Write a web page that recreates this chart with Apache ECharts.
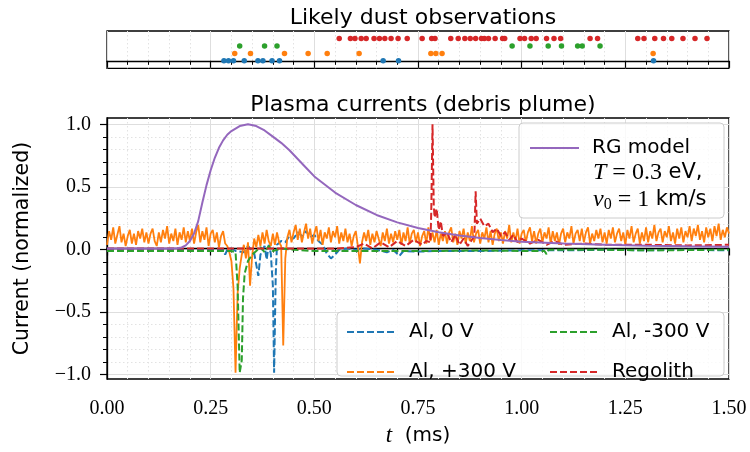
<!DOCTYPE html>
<html>
<head>
<meta charset="utf-8">
<script src="https://cdn.jsdelivr.net/npm/echarts@6/dist/echarts.min.js"></script>
<style>
html, body { margin: 0; padding: 0; background: #fff; }
#main { width: 750px; height: 452px; }
</style>
</head>
<body>
<div id="main"></div>
<script>
// dust events (ms), one row per probe
var blueDust = [0.282, 0.293, 0.305, 0.331, 0.364, 0.376, 0.398, 0.416, 0.666, 0.703, 1.318];
var orangeDust = [0.308, 0.346, 0.428, 0.485, 0.531, 0.608, 0.781, 0.793, 0.808, 1.317];
var greenDust = [0.320, 0.380, 0.410, 0.977, 1.020, 1.064, 1.096, 1.135, 1.146, 1.189];
var redDust = [0.560, 0.587, 0.598, 0.613, 0.625, 0.644, 0.657, 0.670, 0.685, 0.702, 0.724, 0.760,
    0.783, 0.791, 0.829, 0.847, 0.863, 0.876, 0.889, 0.903, 0.910, 0.920, 0.936, 0.954, 0.959,
    0.996, 1.007, 1.023, 1.035, 1.060, 1.078, 1.094, 1.165, 1.183, 1.280, 1.295, 1.321, 1.342,
    1.362, 1.389, 1.418, 1.447];

// Al +300 V trace, sampled every 5 us
var orangeStep = 0.005;
var orangeV = [
    0.03, 0.14, 0.07, 0.17, 0.04, 0.11, 0.18, 0.05, 0.12, 0.02, 0.10, 0.15, 0.04, 0.12, 0.03, 0.14, 0.08, 0.16, 0.05, 0.13,
    0.04, 0.12, 0.16, 0.06, 0.02, 0.13, 0.05, 0.15, 0.08, 0.18, 0.04, 0.12, 0.06, 0.16, 0.03, 0.13, 0.07, 0.17, 0.05, 0.14,
    0.06, 0.16, 0.04, 0.13, 0.19, 0.05, 0.14, 0.07, 0.17, 0.02, 0.12, 0.15, 0.05, 0.13, 0.01, 0.10, 0.14, 0.04, 0.02, -0.03,
    -0.10, -0.32, -1.00, -0.36, -0.16, -0.05, 0.03, -0.08, 0.05, -0.30, -0.06, 0.08, 0.01, 0.11, 0.02, 0.13, 0.04, 0.15, 0.06, 0.02,
    0.12, 0.03, 0.13, 0.05, 0.02, -0.78, -0.08, 0.09, 0.15, 0.05, 0.13, 0.19, 0.07, 0.16, 0.05, 0.13, 0.20, 0.08, 0.16, 0.04,
    0.12, 0.18, 0.06, 0.15, 0.03, 0.13, 0.08, 0.17, 0.05, 0.14, 0.09, 0.18, 0.04, 0.13, 0.06, 0.16, 0.05, 0.12, 0.02, 0.10,
    0.14, 0.02, -0.12, 0.05, 0.13, 0.06, 0.15, 0.03, 0.12, 0.05, 0.14, 0.08, 0.02, 0.13, 0.06, 0.16, 0.04, 0.12, 0.05, 0.14,
    0.07, 0.15, 0.03, 0.13, 0.06, 0.17, 0.04, 0.12, 0.15, 0.05, 0.13, 0.02, 0.10, 0.14, 0.04, 0.17, 0.06, 0.13, 0.05, 0.15,
    0.03, 0.12, 0.06, 0.14, 0.04, 0.13, 0.17, 0.05, 0.12, 0.03, 0.14, 0.08, 0.16, 0.04, 0.13, 0.06, 0.18, 0.05, 0.12, 0.15,
    0.04, 0.13, 0.08, 0.17, 0.05, 0.14, 0.03, 0.12, 0.16, 0.06, 0.13, 0.04, 0.14, 0.08, 0.19, 0.05, 0.13, 0.06, 0.16, 0.04,
    0.12, 0.15, 0.05, 0.13, 0.17, 0.06, 0.14, 0.04, 0.12, 0.16, 0.05, 0.13, 0.08, 0.17, 0.04, 0.14, 0.06, 0.13, 0.03, 0.12,
    0.16, 0.05, 0.13, 0.08, 0.18, 0.04, 0.12, 0.15, 0.06, 0.16, 0.05, 0.13, 0.17, 0.04, 0.12, 0.06, 0.15, 0.08, 0.16, 0.05,
    0.13, 0.04, 0.15, 0.08, 0.17, 0.05, 0.12, 0.16, 0.06, 0.13, 0.03, 0.15, 0.08, 0.18, 0.05, 0.12, 0.16, 0.04, 0.13, 0.06,
    0.17, 0.05, 0.14, 0.08, 0.19, 0.06, 0.13, 0.16, 0.05, 0.14, 0.09, 0.18, 0.06, 0.13, 0.04, 0.16, 0.08, 0.17, 0.05, 0.14,
    0.09, 0.18, 0.06, 0.16, 0.10, 0.19, 0.07, 0.14, 0.05, 0.17, 0.09, 0.16, 0.06, 0.18, 0.10, 0.20, 0.07, 0.15, 0.09, 0.17,
    0.12
];

// Al 0 V
var blueT = [0, 0.28, 0.285, 0.29, 0.30, 0.31, 0.33, 0.34, 0.355, 0.365, 0.37, 0.38, 0.385, 0.39, 0.395,
    0.40, 0.403, 0.407, 0.41, 0.42, 0.43, 0.44, 0.45, 0.46, 0.47, 0.48, 0.49, 0.50, 0.51, 0.52, 0.53,
    0.54, 0.55, 0.56, 0.58, 0.60, 0.62, 0.65, 0.675, 0.69, 0.705, 0.715, 0.75, 0.80, 0.90, 1.00, 1.10,
    1.20, 1.30, 1.40, 1.50];
var blueV = [-0.01, -0.01, -0.05, -0.01, 0.00, -0.02, -0.03, 0.02, -0.04, -0.22, -0.05, 0.02, -0.09, 0.03, -0.04,
    -0.30, -1.00, -0.20, 0.03, 0.06, 0.05, 0.10, 0.08, 0.13, 0.10, 0.14, 0.09, 0.11, 0.06, 0.03, -0.04,
    -0.08, -0.05, -0.01, 0.00, -0.01, 0.00, -0.01, -0.03, -0.01, -0.06, -0.02, -0.025, -0.02, -0.02, -0.015, -0.015,
    -0.01, -0.015, -0.01, -0.015];

// Al -300 V
var greenT = [0, 0.30, 0.31, 0.315, 0.32, 0.325, 0.328, 0.332, 0.34, 0.35, 0.36, 0.37, 0.38, 0.39, 0.40,
    0.42, 0.45, 0.50, 0.60, 0.70, 0.80, 0.90, 1.00, 1.055, 1.06, 1.065, 1.20, 1.30, 1.50];
var greenV = [-0.02, -0.02, -0.03, -0.30, -1.00, -0.90, -0.40, -0.20, -0.10, -0.05, -0.02, 0.01, -0.03, 0.02, -0.02,
    0.00, -0.01, -0.02, -0.02, -0.02, -0.02, -0.015, -0.02, -0.02, -0.045, -0.01, -0.01, -0.015, -0.01];

// Regolith
var redT = [0, 0.55, 0.60, 0.62, 0.64, 0.66, 0.68, 0.70, 0.72, 0.74, 0.76, 0.77, 0.78, 0.782, 0.785, 0.788,
    0.79, 0.795, 0.80, 0.805, 0.81, 0.82, 0.83, 0.84, 0.85, 0.86, 0.87, 0.88, 0.886, 0.889, 0.892, 0.90,
    0.91, 0.92, 0.93, 0.94, 0.95, 0.96, 0.97, 0.98, 0.99, 1.00, 1.02, 1.04, 1.06, 1.08, 1.10, 1.15, 1.20,
    1.30, 1.40, 1.50];
var redV = [0.00, 0.00, 0.01, 0.04, 0.00, 0.05, 0.01, 0.06, 0.02, 0.07, 0.03, 0.06, 0.05, 0.30, 1.00, 0.35,
    0.25, 0.32, 0.15, 0.22, 0.10, 0.13, 0.05, 0.11, 0.03, 0.08, 0.02, 0.07, 0.10, 0.46, 0.20, 0.24,
    0.18, 0.20, 0.13, 0.16, 0.10, 0.13, 0.07, 0.11, 0.05, 0.08, 0.04, 0.07, 0.03, 0.06, 0.03, 0.04, 0.03,
    0.03, 0.025, 0.03];

// RG model curve
var modelT = [0, 0.05, 0.10, 0.15, 0.17, 0.18, 0.19, 0.20, 0.21, 0.22, 0.23, 0.24, 0.25, 0.26, 0.27, 0.28,
    0.29, 0.30, 0.32, 0.34, 0.36, 0.38, 0.40, 0.42, 0.44, 0.46, 0.48, 0.50, 0.55, 0.60, 0.65, 0.70, 0.75,
    0.80, 0.85, 0.90, 0.95, 1.00, 1.10, 1.20, 1.30, 1.40, 1.50];
var modelV = [0, 0, 0, 0, 0.003, 0.008, 0.025, 0.06, 0.12, 0.22, 0.37, 0.51, 0.63, 0.73, 0.81, 0.87,
    0.915, 0.945, 0.985, 1.0, 0.985, 0.95, 0.90, 0.85, 0.79, 0.72, 0.65, 0.58, 0.45, 0.35, 0.27, 0.21, 0.165,
    0.13, 0.105, 0.085, 0.068, 0.055, 0.04, 0.03, 0.023, 0.018, 0.014];

var xTicks = { min: 0, max: 1.5, interval: 0.25 };
var yTicks = { min: -1, max: 1, interval: 0.5 };

var colors = {
    blue: '#1f77b4', orange: '#ff7f0e', green: '#2ca02c', red: '#d62728', purple: '#9467bd'
};

function pairs(ts, vs) {
    return ts.map(function (t, i) { return [t, vs[i]]; });
}
function dust(ts, row) {
    return ts.map(function (t) { return [t, row]; });
}
function minus(s) {
    return String(s).replace('-', '\u2212');
}

var serif = 'Liberation Serif';
var sans = 'DejaVu Sans';
var dash = [7, 3];
var majorGrid = { show: true, lineStyle: { color: '#dedede', width: 1 } };
var minorGrid = { show: true, lineStyle: { color: '#e2e2e2', width: 1, type: [1.5, 2.5] } };

function trace(name, data, color, type, width) {
    return {
        name: name,
        type: 'line',
        xAxisIndex: 0,
        yAxisIndex: 0,
        data: data,
        symbol: 'none',
        showSymbol: false,
        clip: true,
        color: color,
        lineStyle: { color: color, width: width, type: type }
    };
}
function dots(name, data, color) {
    return {
        name: name,
        type: 'scatter',
        xAxisIndex: 2,
        yAxisIndex: 2,
        data: data,
        symbolSize: 5.5,
        itemStyle: { color: color, opacity: 1 }
    };
}

var legendBase = {
    itemWidth: 49, itemHeight: 14, z: 60,
    itemStyle: { opacity: 0 },
    textStyle: { fontFamily: sans, fontSize: 20, color: '#000', padding: [0, 0, 0, 8] }
};

var myChart = echarts.init(document.getElementById('main'));

var option = {
    animation: false,
    backgroundColor: '#fff',
    title: [
        {
            text: 'Likely dust observations',
            left: 418, top: 2, textAlign: 'center',
            textStyle: { fontFamily: sans, fontSize: 22, fontWeight: 'normal', color: '#000' }
        },
        {
            text: 'Plasma currents (debris plume)',
            left: 418, top: 89, textAlign: 'center',
            textStyle: { fontFamily: sans, fontSize: 22, fontWeight: 'normal', color: '#000' }
        }
    ],
    grid: [
        // main panel (series + frame)
        { left: 107, width: 622, top: 118, height: 262.5, show: true, borderColor: '#000', borderWidth: 1.3, backgroundColor: 'transparent' },
        // same panel, y ticks spanning -1..1
        { left: 107, width: 622, top: 124.25, height: 250, show: false },
        // dust strip
        { left: 107, width: 622, top: 31, height: 37.3, show: true, borderColor: '#000', borderWidth: 1.3, backgroundColor: 'transparent' }
    ],
    xAxis: [
        {
            gridIndex: 0, type: 'value', min: xTicks.min, max: xTicks.max, interval: xTicks.interval,
            axisLine: { show: true, lineStyle: { color: '#000', width: 1.3 } },
            axisTick: { show: true, length: 7, lineStyle: { color: '#000', width: 1.2 } },
            minorTick: { show: true, splitNumber: 5, length: 4, lineStyle: { color: '#000', width: 1 } },
            axisLabel: {
                margin: 20, fontFamily: serif, fontSize: 20, color: '#000',
                formatter: function (v) { return v.toFixed(2); }
            },
            splitLine: majorGrid,
            minorSplitLine: minorGrid,
            name: '{i|t}{s|  (ms)}',
            nameLocation: 'middle',
            nameGap: 45,
            nameTextStyle: {
                rich: {
                    i: { fontFamily: serif, fontStyle: 'italic', fontSize: 23, color: '#000' },
                    s: { fontFamily: sans, fontSize: 20, color: '#000' }
                }
            }
        },
        { gridIndex: 1, type: 'value', min: xTicks.min, max: xTicks.max, show: false },
        {
            gridIndex: 2, type: 'value', min: xTicks.min, max: xTicks.max, interval: xTicks.interval,
            axisLine: { show: true, lineStyle: { color: '#000', width: 1.3 } },
            axisTick: { show: true, length: 7, lineStyle: { color: '#000', width: 1.2 } },
            minorTick: { show: true, splitNumber: 5, length: 4, lineStyle: { color: '#000', width: 1 } },
            axisLabel: { show: false },
            splitLine: majorGrid,
            minorSplitLine: minorGrid
        }
    ],
    yAxis: [
        {
            gridIndex: 0, type: 'value', min: -1.05, max: 1.05,
            axisLine: { show: true, lineStyle: { color: '#000', width: 1.3 } },
            axisTick: { show: false },
            axisLabel: { show: false },
            splitLine: { show: false },
            name: 'Current (normalized)',
            nameLocation: 'middle',
            nameRotate: 90,
            nameGap: 74,
            nameTextStyle: { fontFamily: sans, fontSize: 20.5, color: '#000' }
        },
        {
            gridIndex: 1, type: 'value', min: yTicks.min, max: yTicks.max, interval: yTicks.interval,
            axisLine: { show: false },
            axisTick: { show: true, length: 7, lineStyle: { color: '#000', width: 1.2 } },
            minorTick: { show: true, splitNumber: 5, length: 4, lineStyle: { color: '#000', width: 1 } },
            axisLabel: {
                margin: 16, fontFamily: serif, fontSize: 20, color: '#000',
                formatter: function (v) { return minus(v.toFixed(1)); }
            },
            splitLine: majorGrid,
            minorSplitLine: minorGrid
        },
        { gridIndex: 2, type: 'value', min: -1, max: 4, show: false }
    ],
    legend: [
        Object.assign({}, legendBase, { data: ['RG model'], left: 524, top: 133 }),
        Object.assign({}, legendBase, {
            data: ['Al, 0 V', 'Al, +300 V'], orient: 'vertical', left: 341, top: 317, itemGap: 20,
            lineStyle: { type: dash }
        }),
        Object.assign({}, legendBase, {
            data: ['Al, -300 V', 'Regolith'], orient: 'vertical', left: 544, top: 317, itemGap: 20,
            lineStyle: { type: dash }
        })
    ],
    graphic: [
        {
            type: 'rect', z: 50,
            shape: { x: 519, y: 123, width: 205, height: 95, r: 4 },
            style: { fill: 'rgba(255,255,255,0.8)', stroke: '#cccccc', lineWidth: 1 }
        },
        {
            type: 'rect', z: 50,
            shape: { x: 337, y: 312, width: 387, height: 64, r: 4 },
            style: { fill: 'rgba(255,255,255,0.8)', stroke: '#cccccc', lineWidth: 1 }
        },
        {
            type: 'text', z: 60, x: 593, y: 173,
            style: {
                text: '{i|T}{r| = 0.3}{s| eV,}',
                verticalAlign: 'middle',
                rich: {
                    i: { fontFamily: serif, fontStyle: 'italic', fontSize: 24, fill: '#000' },
                    r: { fontFamily: serif, fontSize: 24, fill: '#000' },
                    s: { fontFamily: sans, fontSize: 21, fill: '#000' }
                }
            }
        },
        {
            type: 'text', z: 60, x: 593, y: 200,
            style: {
                text: '{i|v}{b|0}{r| = 1}{s| km/s}',
                verticalAlign: 'middle',
                rich: {
                    i: { fontFamily: serif, fontStyle: 'italic', fontSize: 24, fill: '#000' },
                    b: { fontFamily: serif, fontSize: 16, fill: '#000', padding: [9, 0, 0, 0] },
                    r: { fontFamily: serif, fontSize: 24, fill: '#000' },
                    s: { fontFamily: sans, fontSize: 21, fill: '#000' }
                }
            }
        }
    ],
    series: [
        trace('Al, 0 V', pairs(blueT, blueV), colors.blue, dash, 2),
        trace('Al, +300 V', orangeV.map(function (v, i) { return [+(i * orangeStep).toFixed(3), v]; }), colors.orange, 'solid', 1.8),
        trace('Al, -300 V', pairs(greenT, greenV), colors.green, dash, 2),
        trace('Regolith', pairs(redT, redV), colors.red, dash, 2),
        trace('RG model', pairs(modelT, modelV), colors.purple, 'solid', 2),
        dots('dust 0 V', dust(blueDust, 0), colors.blue),
        dots('dust +300 V', dust(orangeDust, 1), colors.orange),
        dots('dust -300 V', dust(greenDust, 2), colors.green),
        dots('dust regolith', dust(redDust, 3), colors.red)
    ]
};

myChart.setOption(option);
</script>
</body>
</html>
